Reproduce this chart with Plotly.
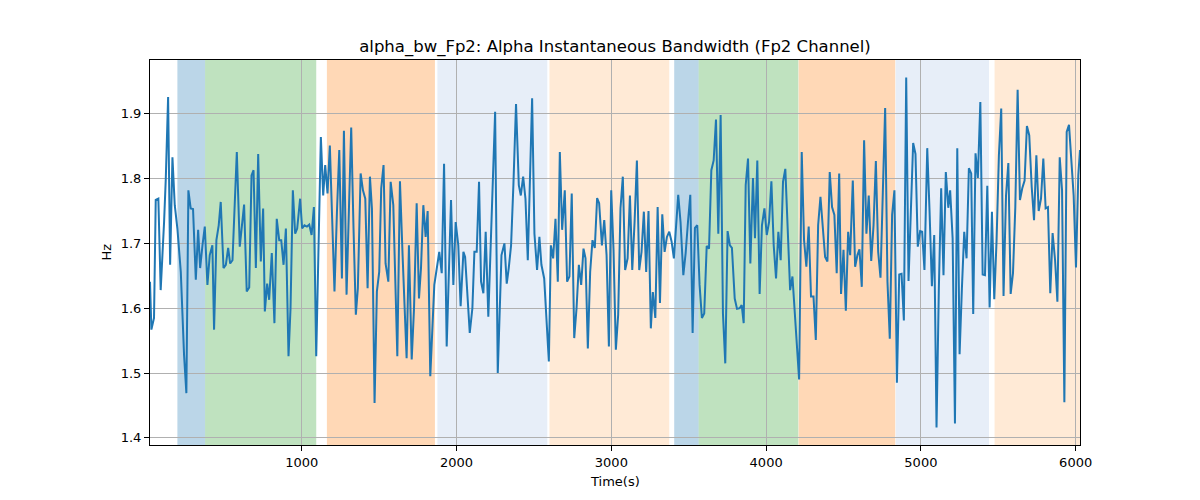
import plotly.graph_objects as go

# ---- data ----
time_s = [
    19, 28, 45, 56, 73, 88, 110, 121, 136, 149, 164, 179, 196, 218, 239, 254, 267, 282, 297, 315,
    330, 343, 358, 373, 390, 405, 422, 433, 448, 463, 476, 494, 509, 524, 537, 552, 567, 580, 599, 627,
    644, 660, 675, 688, 703, 718, 735, 750, 761,
    776, 789, 806, 823, 838, 854, 867, 882, 897, 914, 927, 942, 957, 970, 989, 1002, 1017, 1033, 1048, 1063,
    1078, 1093, 1123, 1138, 1151, 1166, 1181, 1196, 1211, 1227, 1242, 1259, 1272, 1289, 1304, 1319, 1334, 1349, 1362, 1380,
    1395, 1410, 1425, 1440, 1453, 1470, 1485, 1500, 1513,
    1528, 1541, 1559, 1574, 1591, 1617, 1634, 1651, 1677, 1692, 1710, 1725, 1742, 1757, 1770, 1785, 1800, 1813, 1830, 1856,
    1873, 1888, 1904, 1919, 1936, 1964, 1979, 1994, 2011, 2026, 2044, 2055, 2085, 2102, 2115, 2130, 2145, 2158, 2173, 2188,
    2205, 2223, 2249, 2266,
    2290, 2309, 2324, 2337, 2352, 2367, 2384, 2402, 2415, 2430, 2445, 2460, 2473, 2488, 2503, 2520, 2535, 2548, 2566, 2581,
    2596, 2609, 2624, 2639, 2654, 2667, 2682, 2699, 2714, 2729, 2744, 2760, 2775, 2790, 2805, 2820, 2833, 2848, 2863, 2878,
    2893, 2908, 2921, 2939, 2954, 2969, 2984, 2999, 3014,
    3029, 3044, 3059, 3074, 3089, 3105, 3120, 3135, 3150, 3165, 3180, 3195, 3210, 3225, 3240, 3255, 3268, 3284, 3299, 3314,
    3329, 3344, 3359, 3374, 3389, 3404, 3432, 3447, 3465, 3480, 3495, 3510, 3525, 3540, 3555, 3570, 3585, 3600, 3616, 3631,
    3646, 3661, 3676, 3691, 3706, 3721, 3736, 3751, 3766, 3779,
    3797, 3812, 3829, 3842, 3855, 3868, 3883, 3898, 3915, 3928, 3943, 3958, 3973, 3989, 4004, 4019, 4034, 4049, 4064, 4079,
    4094, 4109, 4124, 4155, 4170, 4185, 4198, 4213, 4230, 4245, 4260, 4275, 4290, 4306, 4321, 4336, 4351, 4366, 4381, 4396,
    4411, 4426, 4441, 4456, 4472, 4484, 4500, 4515, 4530, 4543,
    4560, 4575, 4590, 4603, 4618, 4633, 4648, 4663, 4679, 4694, 4709, 4724, 4739, 4754, 4769, 4784, 4799, 4814, 4829, 4845,
    4860, 4875, 4890, 4905, 4920, 4935, 4950, 4965, 4980, 4995, 5008, 5023, 5041, 5056, 5071, 5086, 5101, 5116, 5131, 5146,
    5161, 5177, 5189, 5205, 5220, 5235, 5250, 5265, 5280, 5295,
    5310, 5325, 5338, 5353, 5368, 5384, 5399, 5414, 5429, 5444, 5459, 5474, 5489, 5504, 5519, 5534, 5550, 5565, 5580, 5595,
    5610, 5625, 5640, 5655, 5670, 5685, 5700, 5716, 5731, 5746, 5761, 5776, 5791, 5806, 5821, 5836, 5851, 5867, 5882, 5897,
    5912, 5927, 5942, 5957, 5972, 5987, 6002, 6017, 6028,
]

alpha_bw_hz = [
    1.641, 1.567, 1.585, 1.767, 1.769, 1.628, 1.733, 1.800, 1.926, 1.667, 1.833, 1.759, 1.723, 1.656, 1.528, 1.469, 1.782, 1.754, 1.753, 1.644,
    1.721, 1.662, 1.697, 1.726, 1.636, 1.682, 1.697, 1.567, 1.705, 1.728, 1.764, 1.662, 1.667, 1.693, 1.669, 1.674, 1.764, 1.841, 1.695, 1.760,
    1.626, 1.632, 1.805, 1.813, 1.662, 1.838, 1.672, 1.754, 1.595,
    1.638, 1.613, 1.685, 1.577, 1.738, 1.705, 1.705, 1.667, 1.723, 1.526, 1.600, 1.782, 1.715, 1.723, 1.769, 1.723, 1.728, 1.726, 1.729, 1.713,
    1.756, 1.526, 1.864, 1.774, 1.821, 1.777, 1.851, 1.738, 1.626, 1.749, 1.844, 1.646, 1.874, 1.621, 1.759, 1.879, 1.723, 1.590, 1.631, 1.808,
    1.782, 1.769, 1.631, 1.803, 1.754, 1.454, 1.626, 1.656, 1.785,
    1.821, 1.669, 1.641, 1.795, 1.759, 1.526, 1.796, 1.682, 1.523, 1.697, 1.521, 1.600, 1.762, 1.615, 1.662, 1.759, 1.710, 1.750, 1.495, 1.636,
    1.662, 1.687, 1.654, 1.823, 1.541, 1.767, 1.636, 1.733, 1.697, 1.603, 1.687, 1.679, 1.562, 1.600, 1.687, 1.687, 1.795, 1.641, 1.623, 1.718,
    1.587, 1.718, 1.903, 1.500,
    1.682, 1.700, 1.638, 1.662, 1.697, 1.790, 1.915, 1.790, 1.774, 1.803, 1.769, 1.674, 1.787, 1.924, 1.715, 1.659, 1.710, 1.667, 1.646, 1.579,
    1.518, 1.697, 1.677, 1.738, 1.641, 1.841, 1.721, 1.782, 1.641, 1.649, 1.777, 1.554, 1.600, 1.667, 1.636, 1.692, 1.677, 1.538, 1.656, 1.705,
    1.693, 1.770, 1.762, 1.697, 1.736, 1.682, 1.541, 1.782, 1.690,
    1.536, 1.590, 1.754, 1.803, 1.659, 1.677, 1.774, 1.659, 1.733, 1.828, 1.659, 1.687, 1.749, 1.656, 1.750, 1.569, 1.625, 1.585, 1.756, 1.608,
    1.745, 1.687, 1.710, 1.718, 1.703, 1.677, 1.775, 1.733, 1.651, 1.685, 1.733, 1.775, 1.562, 1.724, 1.728, 1.636, 1.585, 1.592, 1.696, 1.692,
    1.813, 1.828, 1.891, 1.715, 1.898, 1.592, 1.515, 1.719, 1.697, 1.693,
    1.615, 1.599, 1.600, 1.605, 1.577, 1.790, 1.831, 1.669, 1.801, 1.708, 1.828, 1.622, 1.728, 1.754, 1.713, 1.733, 1.796, 1.697, 1.646, 1.718,
    1.674, 1.795, 1.815, 1.628, 1.649, 1.595, 1.533, 1.490, 1.841, 1.705, 1.664, 1.726, 1.618, 1.618, 1.551, 1.728, 1.772, 1.718, 1.679, 1.672,
    1.810, 1.756, 1.744, 1.654, 1.808, 1.622, 1.690, 1.596, 1.718, 1.682,
    1.797, 1.664, 1.682, 1.691, 1.633, 1.859, 1.715, 1.774, 1.673, 1.728, 1.827, 1.687, 1.647, 1.779, 1.909, 1.641, 1.553, 1.744, 1.782, 1.485,
    1.652, 1.653, 1.581, 1.956, 1.642, 1.749, 1.855, 1.838, 1.695, 1.719, 1.718, 1.659, 1.847, 1.749, 1.634, 1.713, 1.416, 1.631, 1.785, 1.651,
    1.810, 1.755, 1.782, 1.708, 1.422, 1.847, 1.529, 1.631, 1.718, 1.677,
    1.816, 1.808, 1.591, 1.839, 1.801, 1.918, 1.652, 1.651, 1.789, 1.601, 1.749, 1.614, 1.705, 1.836, 1.908, 1.619, 1.774, 1.824, 1.622, 1.654,
    1.756, 1.937, 1.767, 1.785, 1.797, 1.881, 1.867, 1.787, 1.736, 1.836, 1.750, 1.769, 1.831, 1.754, 1.756, 1.623, 1.716, 1.674, 1.610, 1.833,
    1.782, 1.455, 1.872, 1.883, 1.836, 1.774, 1.663, 1.805, 1.844,
]

region_start = [196, 375, 1162, 1876, 2600, 3406, 3564, 4210, 4837, 5476]
region_end = [375, 1093, 1860, 2586, 3374, 3564, 4208, 4834, 5440, 6040]
region_color = ["#1f77b4", "#2ca02c", "#ff7f0e", "#aec7e8", "#ffbb78",
                "#1f77b4", "#2ca02c", "#ff7f0e", "#aec7e8", "#ffbb78"]

x_ticks = [1000, 2000, 3000, 4000, 5000, 6000]
y_ticks = [1.4, 1.5, 1.6, 1.7, 1.8, 1.9]

title_text = "alpha_bw_Fp2: Alpha Instantaneous Bandwidth (Fp2 Channel)"
x_label = "Time(s)"
y_label = "Hz"

FONT = "DejaVu Sans"

fig = go.Figure()

for s, e, c in zip(region_start, region_end, region_color):
    fig.add_shape(type="rect", xref="x", yref="paper", x0=s, x1=e, y0=0, y1=1,
                  fillcolor=c, opacity=0.3, line=dict(width=0), layer="below")

fig.add_trace(go.Scatter(x=time_s, y=alpha_bw_hz, mode="lines",
                         line=dict(color="#1f77b4", width=2), showlegend=False,
                         hoverinfo="x+y"))

axis_common = dict(showgrid=True, gridcolor="#b0b0b0", gridwidth=1,
                   showline=True, linecolor="black", linewidth=1, mirror=True,
                   ticks="outside", ticklen=5, tickcolor="black", tickwidth=1,
                   zeroline=False, tickfont=dict(family=FONT, size=13, color="black"))

fig.update_xaxes(range=[19, 6028], tickvals=x_ticks,
                 ticktext=[str(t) for t in x_ticks], **axis_common)
fig.update_yaxes(range=[1.389, 1.983], tickvals=y_ticks,
                 ticktext=[f"{t:.1f}" for t in y_ticks], **axis_common)

# page body has an 8px margin, so the figure is sized 1192x492 and offset
W, H = 1192, 492
fig.update_layout(
    width=W, height=H,
    margin=dict(l=142, r=120, t=52, b=55),
    paper_bgcolor="white", plot_bgcolor="white",
    font=dict(family=FONT, color="black"),
    title=dict(text=title_text, x=0.5, xref="paper", xanchor="center",
               y=1 - 38 / H, yref="container", yanchor="middle",
               font=dict(family=FONT, size=16.5, color="black")),
    annotations=[
        dict(text=x_label, xref="paper", yref="paper", x=0.5, y=(445 - 481) / 385,
             xanchor="center", yanchor="middle", showarrow=False,
             font=dict(family=FONT, size=13, color="black")),
        dict(text=y_label, xref="paper", yref="paper", x=(106 - 150) / 930, y=0.5,
             xanchor="center", yanchor="middle", showarrow=False, textangle=-90,
             font=dict(family=FONT, size=13, color="black")),
    ],
)

fig.write_html("out.html")
